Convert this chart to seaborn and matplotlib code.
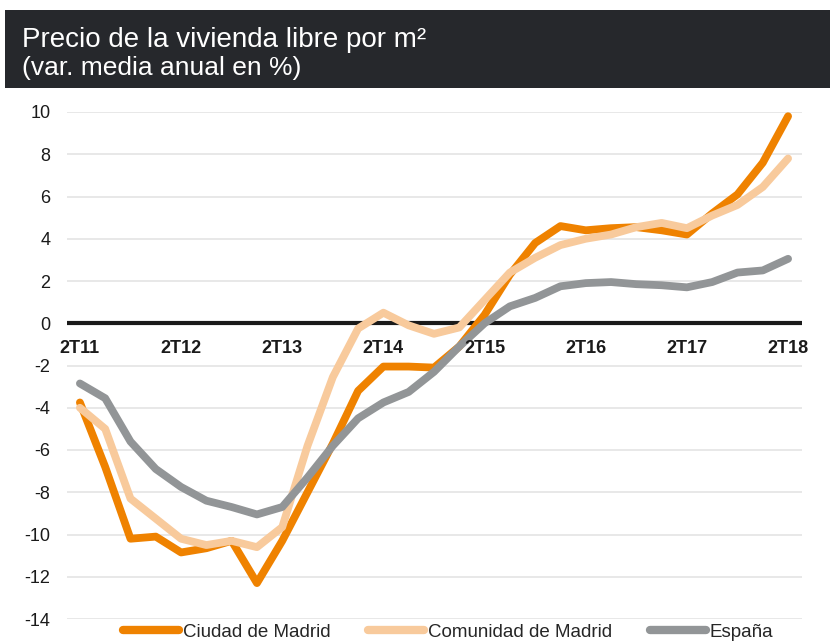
import matplotlib
matplotlib.use("Agg")
import matplotlib.pyplot as plt
import seaborn as sns
import pandas as pd
from matplotlib.patches import Rectangle
from matplotlib.lines import Line2D

# Quarterly series, 2T11 .. 2T18 (29 quarters)
quarter_index = list(range(29))
ciudad_madrid = [-3.75, -6.8, -10.2, -10.1, -10.85, -10.65, -10.3, -12.3, -10.3, -8.0,
                 -5.7, -3.2, -2.05, -2.05, -2.1, -1.1, 0.4, 2.3, 3.8, 4.6,
                 4.4, 4.5, 4.55, 4.4, 4.2, 5.2, 6.1, 7.6, 9.8]
comunidad_madrid = [-4.0, -5.0, -8.3, -9.25, -10.2, -10.5, -10.3, -10.6, -9.65, -5.8,
                    -2.55, -0.25, 0.5, -0.1, -0.5, -0.2, 1.1, 2.4, 3.1, 3.7,
                    4.0, 4.2, 4.55, 4.75, 4.5, 5.1, 5.6, 6.45, 7.8]
espana = [-2.85, -3.55, -5.6, -6.9, -7.75, -8.4, -8.7, -9.05, -8.7, -7.3,
          -5.8, -4.5, -3.75, -3.25, -2.3, -1.1, 0.0, 0.8, 1.2, 1.75,
          1.9, 1.95, 1.85, 1.8, 1.7, 1.95, 2.4, 2.5, 3.05]

series_names = ["Ciudad de Madrid", "Comunidad de Madrid", "España"]
series_colors = ["#EF8200", "#F8CA9C", "#929597"]

year_ticks = [0, 4, 8, 12, 16, 20, 24, 28]
year_labels = ["2T11", "2T12", "2T13", "2T14", "2T15", "2T16", "2T17", "2T18"]
y_ticks = [10, 8, 6, 4, 2, 0, -2, -4, -6, -8, -10, -12, -14]

title_line1 = "Precio de la vivienda libre por m²"
title_line2 = "(var. media anual en %)"

sns.set_theme(style="white")
plt.rcParams["font.family"] = ["Liberation Sans", "DejaVu Sans"]

df = pd.DataFrame({
    "q": quarter_index * 3,
    "value": ciudad_madrid + comunidad_madrid + espana,
    "serie": [series_names[0]] * 29 + [series_names[1]] * 29 + [series_names[2]] * 29,
})

W, H = 830, 644
fig = plt.figure(figsize=(W / 100, H / 100), dpi=100)

# Dark title band
fig.patches.append(Rectangle((5 / W, 1 - 88 / H), (W - 5) / W, 78 / H,
                             transform=fig.transFigure, facecolor="#26282C",
                             edgecolor="none", zorder=0))
fig.text(22 / W, 1 - 47 / H, title_line1, color="white", fontsize=20,
         ha="left", va="baseline")
fig.text(22 / W, 1 - 75 / H, title_line2, color="white", fontsize=19,
         ha="left", va="baseline")

ax = fig.add_axes([67 / W, 1 - 619 / H, (802 - 67) / W, (619 - 112) / H])

# horizontal grid and zero line
for v in y_ticks:
    if v == 0:
        continue
    ax.axhline(v, color="#E8E8E8", lw=1.4, zorder=1)
ax.axhline(0, color="#1A1A1A", lw=3.0, zorder=2)

for name, color in zip(series_names, series_colors):
    sns.lineplot(data=df[df["serie"] == name], x="q", y="value", color=color,
                 linewidth=5.6, ax=ax, sort=False, legend=False,
                 solid_capstyle="round", solid_joinstyle="round", zorder=3,
                 clip_on=False)

ax.set_xlim(-0.51, 28.55)
ax.set_ylim(-14, 10)
ax.set_yticks(y_ticks)
ax.set_yticklabels([str(v) for v in y_ticks])
ax.tick_params(axis="y", length=0, pad=12, labelsize=13, labelcolor="#1A1A1A")
ax.set_xticks([])
ax.set_xlabel("")
ax.set_ylabel("")
for s in ax.spines.values():
    s.set_visible(False)
ax.grid(False)

# Year labels sit just under the zero line
for pos, lab in zip(year_ticks, year_labels):
    ax.text(pos, -1.18, lab, ha="center", va="center", fontsize=13,
            fontweight="bold", color="#1A1A1A", zorder=4)

handles = [Line2D([0], [0], color=c, lw=6, solid_capstyle="round") for c in series_colors]
fig.legend(handles, series_names, loc="center", bbox_to_anchor=(0.54, 1 - 632 / H),
           ncol=3, frameon=False, fontsize=13.5, handlelength=3.0,
           handletextpad=0.2, columnspacing=2.0, borderaxespad=0)

fig.savefig("out.png", dpi=100)
